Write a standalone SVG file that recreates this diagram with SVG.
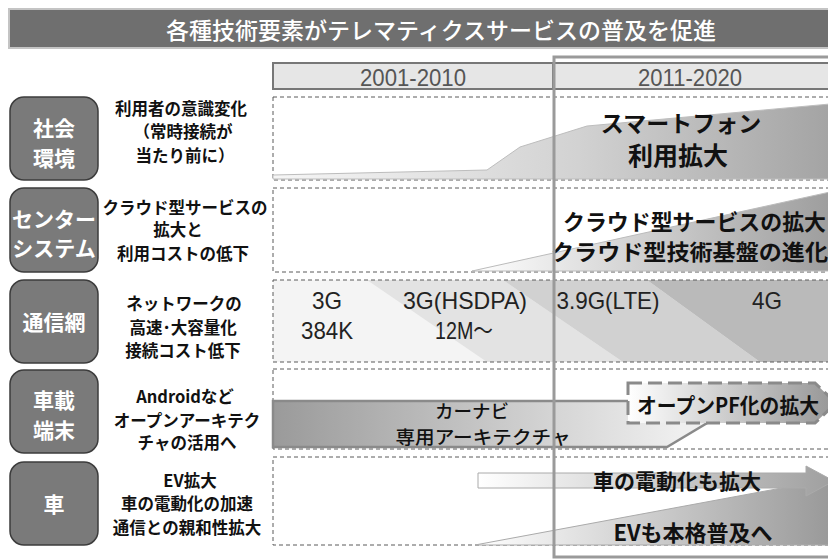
<svg xmlns="http://www.w3.org/2000/svg" width="828" height="560" viewBox="0 0 828 560">
<defs>
<style>
.jp{font-family:'Noto Sans CJK JP',sans-serif}
.num{font-family:'Liberation Sans','Noto Sans CJK JP',sans-serif}
.lbl{fill:#7a7a7a;stroke:#3c3c3c;stroke-width:1.5}
.lt{font-family:'Noto Sans CJK JP',sans-serif;font-size:21px;font-weight:700;fill:#fff;text-anchor:middle;dominant-baseline:central}
.desc{font-family:'Noto Sans CJK JP',sans-serif;font-size:16.5px;font-weight:700;fill:#111;text-anchor:middle;dominant-baseline:central}
.dash{fill:none;stroke:#5a5a5a;stroke-width:1;stroke-dasharray:4 3}
.big{font-family:'Noto Sans CJK JP',sans-serif;font-weight:700;fill:#111;dominant-baseline:central}
.net{font-family:'Liberation Sans','Noto Sans CJK JP',sans-serif;font-size:24px;fill:#222;text-anchor:middle;dominant-baseline:central}
</style>
<linearGradient id="gr1" gradientUnits="userSpaceOnUse" x1="273" y1="0" x2="828" y2="0"><stop offset="0" stop-color="#f6f6f6"/><stop offset="0.55" stop-color="#d2d2d2"/><stop offset="1" stop-color="#a4a4a4"/></linearGradient>
<linearGradient id="gr2" gradientUnits="userSpaceOnUse" x1="472" y1="0" x2="828" y2="0"><stop offset="0" stop-color="#ffffff"/><stop offset="1" stop-color="#9e9e9e"/></linearGradient>
<linearGradient id="gnav" gradientUnits="userSpaceOnUse" x1="273" y1="0" x2="680" y2="0"><stop offset="0" stop-color="#9a9a9a"/><stop offset="1" stop-color="#efefef"/></linearGradient>
<linearGradient id="gpf" gradientUnits="userSpaceOnUse" x1="628" y1="0" x2="828" y2="0"><stop offset="0" stop-color="#ffffff"/><stop offset="1" stop-color="#999999"/></linearGradient>
<linearGradient id="garr" gradientUnits="userSpaceOnUse" x1="478" y1="0" x2="830" y2="0"><stop offset="0" stop-color="#ffffff"/><stop offset="1" stop-color="#a0a0a0"/></linearGradient>
<linearGradient id="gev" gradientUnits="userSpaceOnUse" x1="475" y1="0" x2="828" y2="0"><stop offset="0" stop-color="#ffffff"/><stop offset="1" stop-color="#9a9a9a"/></linearGradient>
</defs>
<rect width="828" height="560" fill="#fff"/>

<g id="title">
<rect x="9" y="9" width="830" height="39" fill="#6f6f6f" stroke="#c4c4c4" stroke-width="2"/>
<text class="jp" x="441" y="29" font-size="23" font-weight="500" fill="#fff" text-anchor="middle" dominant-baseline="central">各種技術要素がテレマティクスサービスの普及を促進</text>
</g>

<g id="period-header">
<rect x="273" y="63" width="570" height="26" fill="#e6e6e6" stroke="#777" stroke-width="2"/>
<line x1="553" y1="63" x2="553" y2="89" stroke="#777" stroke-width="2"/>
<text class="num" x="413" y="77" font-size="24" fill="#555" text-anchor="middle" dominant-baseline="central" textLength="106" lengthAdjust="spacingAndGlyphs">2001-2010</text>
<text class="num" x="690" y="77" font-size="24" fill="#555" text-anchor="middle" dominant-baseline="central" textLength="104" lengthAdjust="spacingAndGlyphs">2011-2020</text>
</g>

<g id="row-social">
<rect class="lbl" x="10" y="97" width="88" height="83" rx="14"/>
<text class="lt" x="54" y="127">社会</text>
<text class="lt" x="54" y="157">環境</text>
<text class="desc" x="181" y="108">利用者の意識変化</text>
<text class="desc" x="183" y="131">（常時接続が</text>
<text class="desc" x="185" y="155">当たり前に）</text>
<rect class="dash" x="273" y="97" width="570" height="83"/>
<polygon points="273,179 273,175 487,170 520,147 587,126 830,104 830,179" fill="url(#gr1)" stroke="#bdbdbd" stroke-width="1"/>
<text class="big" x="681" y="122" font-size="23" text-anchor="middle">スマートフォン</text>
<text class="big" x="678" y="154" font-size="25" text-anchor="middle">利用拡大</text>
</g>

<g id="row-center">
<rect class="lbl" x="10" y="188" width="88" height="84" rx="14"/>
<text class="lt" x="54" y="218" font-size="21.5">センター</text>
<text class="lt" x="54" y="247" font-size="21.5">システム</text>
<text class="desc" x="185" y="207">クラウド型サービスの</text>
<text class="desc" x="178" y="229">拡大と</text>
<text class="desc" x="183" y="253">利用コストの低下</text>
<rect class="dash" x="273" y="188" width="570" height="84"/>
<polygon points="472,271 830,192 830,271" fill="url(#gr2)" stroke="#bbb" stroke-width="1"/>
<text class="big" x="563" y="220" font-size="22" textLength="263" lengthAdjust="spacingAndGlyphs">クラウド型サービスの拡大</text>
<text class="big" x="551" y="250" font-size="22" textLength="277" lengthAdjust="spacingAndGlyphs">クラウド型技術基盤の進化</text>
</g>

<g id="row-network">
<rect class="lbl" x="10" y="280" width="88" height="83" rx="14"/>
<text class="lt" x="54" y="321">通信網</text>
<text class="desc" x="184" y="303">ネットワークの</text>
<text class="desc" x="183" y="327">高速･大容量化</text>
<text class="desc" x="183" y="350">接続コスト低下</text>
<rect x="273" y="280" width="570" height="82" fill="#f4f4f4"/>
<polygon points="367,280 503,280 623,362 487,362" fill="#e3e3e3"/>
<polygon points="503,280 647,280 760,362 623,362" fill="#d1d1d1"/>
<polygon points="647,280 830,280 830,362 760,362" fill="#bababa"/>
<rect class="dash" x="273" y="280" width="570" height="82"/>
<text class="net" x="327" y="300" textLength="30" lengthAdjust="spacingAndGlyphs">3G</text>
<text class="net" x="327" y="330" textLength="52" lengthAdjust="spacingAndGlyphs">384K</text>
<text class="net" x="465" y="300" textLength="124" lengthAdjust="spacingAndGlyphs">3G(HSDPA)</text>
<text class="net" x="464" y="330" textLength="58" lengthAdjust="spacingAndGlyphs">12M～</text>
<text class="net" x="608" y="300" textLength="103" lengthAdjust="spacingAndGlyphs">3.9G(LTE)</text>
<text class="net" x="767" y="300" textLength="30" lengthAdjust="spacingAndGlyphs">4G</text>
</g>

<g id="row-terminal">
<rect class="lbl" x="10" y="370" width="88" height="83" rx="14"/>
<text class="lt" x="54" y="399">車載</text>
<text class="lt" x="54" y="429">端末</text>
<text class="desc" x="185" y="396">Androidなど</text>
<text class="desc" x="187" y="420">オープンアーキテク</text>
<text class="desc" x="187" y="442">チャの活用へ</text>
<rect class="dash" x="273" y="369" width="570" height="80"/>
<polygon points="273,401 744,401 667,447 273,447" fill="url(#gnav)" stroke="#8a8a8a" stroke-width="2.5"/>
<text class="jp" x="472" y="410" font-size="18.5" font-weight="500" fill="#111" text-anchor="middle" dominant-baseline="central">カーナビ</text>
<text class="jp" x="483" y="436" font-size="18.5" font-weight="500" fill="#111" text-anchor="middle" dominant-baseline="central" textLength="175" lengthAdjust="spacingAndGlyphs">専用アーキテクチャ</text>
<polygon points="628,383 815,383 836,403 815,423 628,423" fill="url(#gpf)" stroke="#8a8a8a" stroke-width="3" stroke-dasharray="14 6"/>
<text class="big" x="728" y="404" font-size="21" text-anchor="middle" font-weight="500" textLength="182" lengthAdjust="spacingAndGlyphs">オープンPF化の拡大</text>
</g>

<g id="row-car">
<rect class="lbl" x="10" y="462" width="88" height="83" rx="14"/>
<text class="lt" x="54" y="503">車</text>
<text class="desc" x="190" y="480">EV拡大</text>
<text class="desc" x="187" y="503">車の電動化の加速</text>
<text class="desc" x="187" y="527">通信との親和性拡大</text>
<rect class="dash" x="273" y="457" width="570" height="88"/>
<polygon points="475,545 830,479 830,545" fill="url(#gev)" stroke="#aaa" stroke-width="1"/>
<polygon points="478,473 806,473 806,466 834,481 806,496 806,488 478,488" fill="url(#garr)" stroke="#aaa" stroke-width="1"/>
<text class="big" x="677" y="480" font-size="21" text-anchor="middle">車の電動化も拡大</text>
<text class="big" x="693" y="531" font-size="22" text-anchor="middle">EVも本格普及へ</text>
</g>

<g id="connectors"></g>

<g id="frame-2011-2020">
<rect x="554" y="57" width="300" height="500" fill="none" stroke="#9a9a9a" stroke-width="3"/>
</g>
</svg>
